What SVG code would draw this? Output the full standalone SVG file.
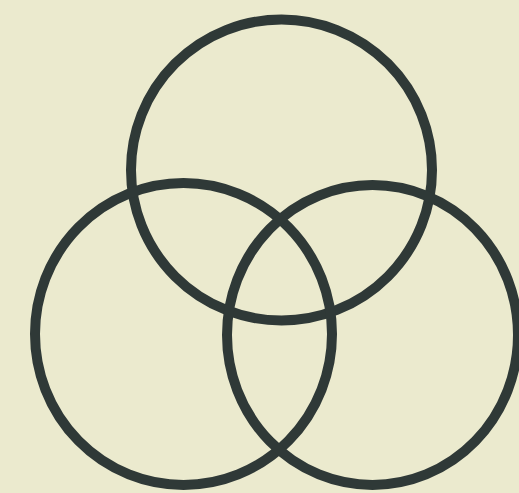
<svg xmlns="http://www.w3.org/2000/svg" width="519" height="493" viewBox="0 0 519 493">
<style>
.ring{fill:none;stroke:#2f3937;stroke-width:10}
</style>
<rect width="519" height="493" fill="#ebeace"/>
<g id="top"><ellipse class="ring" cx="281.5" cy="170" rx="150.5" ry="150.5"/></g>
<g id="left"><ellipse class="ring" cx="183.5" cy="334" rx="148.5" ry="151"/></g>
<g id="right"><ellipse class="ring" cx="372.5" cy="335" rx="145.5" ry="150"/></g>
</svg>
